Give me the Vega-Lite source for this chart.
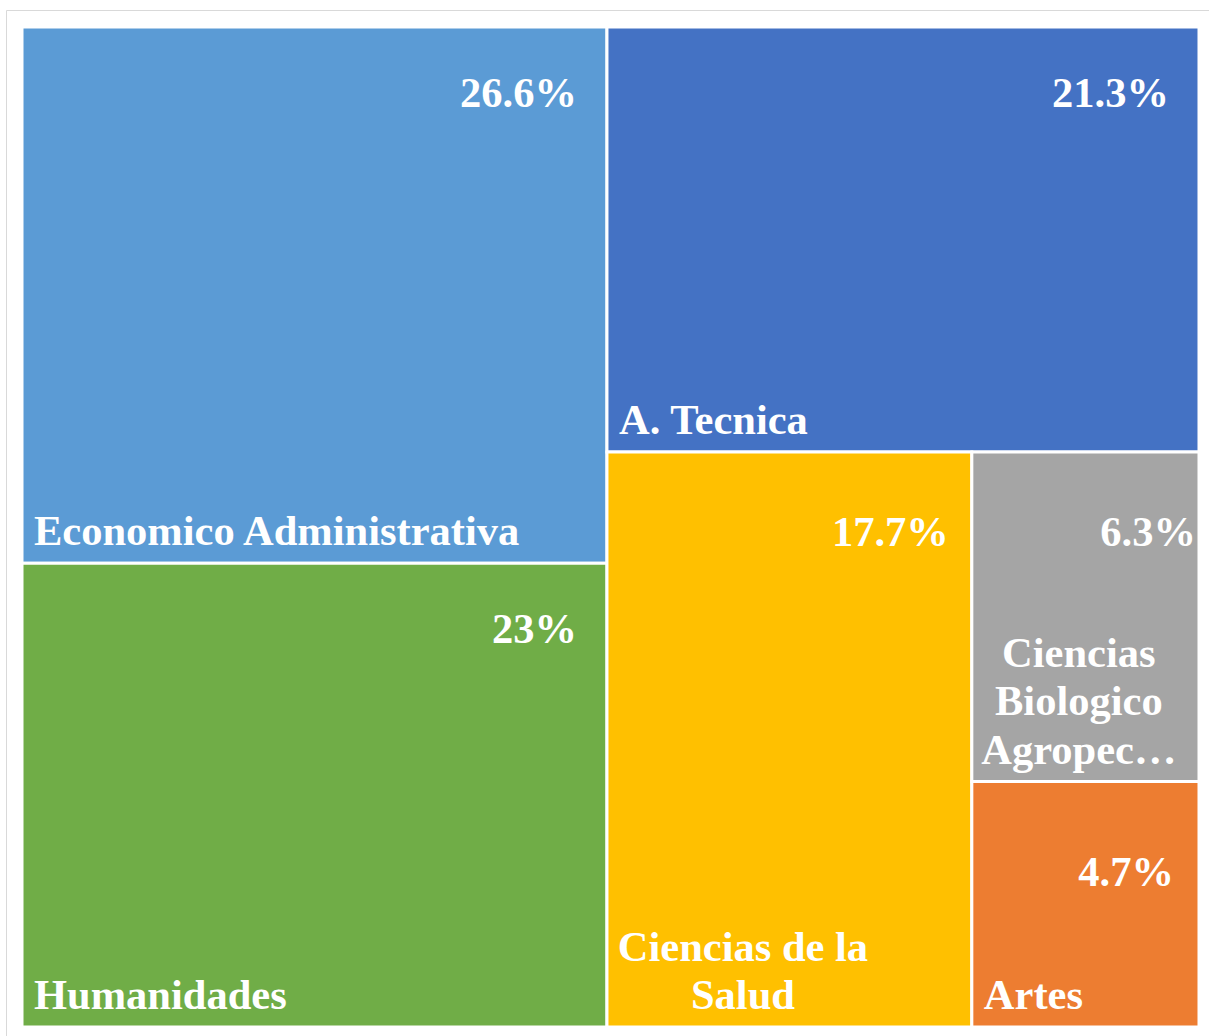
{
  "$schema": "https://vega.github.io/schema/vega-lite/v6.json",
  "width": 1205,
  "height": 1030,
  "autosize": {"type": "none"},
  "padding": {"left": 6, "top": 10, "right": 0, "bottom": 0},
  "background": "white",
  "config": {"view": {"stroke": "#d9d9d9", "strokeWidth": 1}},
  "data": {
    "values": [
      {"category": "Economico Administrativa", "label": "Economico Administrativa", "pct": "26.6%", "x0": 0, "x1": 49.7, "y0": 0, "y1": 53.63},
      {"category": "Humanidades", "label": "Humanidades", "pct": "23%", "x0": 0, "x1": 49.7, "y0": 53.63, "y1": 100},
      {"category": "A. Tecnica", "label": "A. Tecnica", "pct": "21.3%", "x0": 49.7, "x1": 100, "y0": 0, "y1": 42.5},
      {"category": "Ciencias de la Salud", "label": ["Ciencias de la", "Salud"], "pct": "17.7%", "x0": 49.7, "x1": 80.7, "y0": 42.5, "y1": 100},
      {"category": "Ciencias Biologico Agropecuarias", "label": ["Ciencias", "Biologico", "Agropec…"], "pct": "6.3%", "x0": 80.7, "x1": 100, "y0": 42.5, "y1": 75.45},
      {"category": "Artes", "label": "Artes", "pct": "4.7%", "x0": 80.7, "x1": 100, "y0": 75.45, "y1": 100}
    ]
  },
  "encoding": {
    "x": {"field": "x0", "type": "quantitative", "axis": null, "scale": {"domain": [-1.3594, 101.02], "nice": false, "zero": false}},
    "y": {"field": "y0", "type": "quantitative", "axis": null, "scale": {"domain": [-1.7, 101.3], "nice": false, "zero": false, "reverse": true}}
  },
  "layer": [
    {
      "mark": {"type": "rect", "stroke": "white", "strokeWidth": 3},
      "encoding": {
        "x2": {"field": "x1"},
        "y2": {"field": "y1"},
        "color": {
          "field": "category", "type": "nominal", "legend": null,
          "scale": {
            "domain": ["Economico Administrativa", "Humanidades", "A. Tecnica", "Ciencias de la Salud", "Ciencias Biologico Agropecuarias", "Artes"],
            "range": ["#5B9BD5", "#70AD47", "#4472C4", "#FFC000", "#A5A5A5", "#ED7D31"]
          }
        }
      }
    },
    {
      "transform": [{"filter": "datum.category == 'Economico Administrativa' || datum.category == 'Humanidades' || datum.category == 'A. Tecnica'"}],
      "mark": {"type": "text", "align": "right", "baseline": "alphabetic", "dx": -30, "dy": 80, "font": "Liberation Serif", "fontWeight": "bold", "fontSize": 42.5, "fill": "white"},
      "encoding": {
        "x": {"field": "x1", "type": "quantitative"},
        "y": {"field": "y0", "type": "quantitative"},
        "text": {"field": "pct"}
      }
    },
    {
      "transform": [{"filter": "datum.category == 'Ciencias de la Salud'"}],
      "mark": {"type": "text", "align": "right", "baseline": "alphabetic", "dx": -23, "dy": 94, "font": "Liberation Serif", "fontWeight": "bold", "fontSize": 42.5, "fill": "white"},
      "encoding": {
        "x": {"field": "x1", "type": "quantitative"},
        "y": {"field": "y0", "type": "quantitative"},
        "text": {"field": "pct"}
      }
    },
    {
      "transform": [{"filter": "datum.category == 'Ciencias Biologico Agropecuarias'"}],
      "mark": {"type": "text", "align": "right", "baseline": "alphabetic", "dx": -3, "dy": 94, "font": "Liberation Serif", "fontWeight": "bold", "fontSize": 42.5, "fill": "white"},
      "encoding": {
        "x": {"field": "x1", "type": "quantitative"},
        "y": {"field": "y0", "type": "quantitative"},
        "text": {"field": "pct"}
      }
    },
    {
      "transform": [{"filter": "datum.category == 'Artes'"}],
      "mark": {"type": "text", "align": "right", "baseline": "alphabetic", "dx": -25, "dy": 104, "font": "Liberation Serif", "fontWeight": "bold", "fontSize": 42.5, "fill": "white"},
      "encoding": {
        "x": {"field": "x1", "type": "quantitative"},
        "y": {"field": "y0", "type": "quantitative"},
        "text": {"field": "pct"}
      }
    },
    {
      "transform": [{"filter": "datum.category == 'Economico Administrativa' || datum.category == 'Humanidades' || datum.category == 'A. Tecnica' || datum.category == 'Artes'"}],
      "mark": {"type": "text", "align": "left", "baseline": "alphabetic", "dx": 12, "dy": -18, "font": "Liberation Serif", "fontWeight": "bold", "fontSize": 42.5, "fill": "white"},
      "encoding": {
        "x": {"field": "x0", "type": "quantitative"},
        "y": {"field": "y1", "type": "quantitative"},
        "text": {"field": "label"}
      }
    },
    {
      "transform": [{"filter": "datum.category == 'Ciencias de la Salud'"}],
      "mark": {"type": "text", "align": "center", "baseline": "alphabetic", "dx": 136, "dy": -66, "font": "Liberation Serif", "fontWeight": "bold", "fontSize": 42.5, "fill": "white", "lineHeight": 48},
      "encoding": {
        "x": {"field": "x0", "type": "quantitative"},
        "y": {"field": "y1", "type": "quantitative"},
        "text": {"field": "label"}
      }
    },
    {
      "transform": [{"filter": "datum.category == 'Ciencias Biologico Agropecuarias'"}],
      "mark": {"type": "text", "align": "center", "baseline": "alphabetic", "dx": 107, "dy": -115, "font": "Liberation Serif", "fontWeight": "bold", "fontSize": 42.5, "fill": "white", "lineHeight": 48.5},
      "encoding": {
        "x": {"field": "x0", "type": "quantitative"},
        "y": {"field": "y1", "type": "quantitative"},
        "text": {"field": "label"}
      }
    }
  ]
}
